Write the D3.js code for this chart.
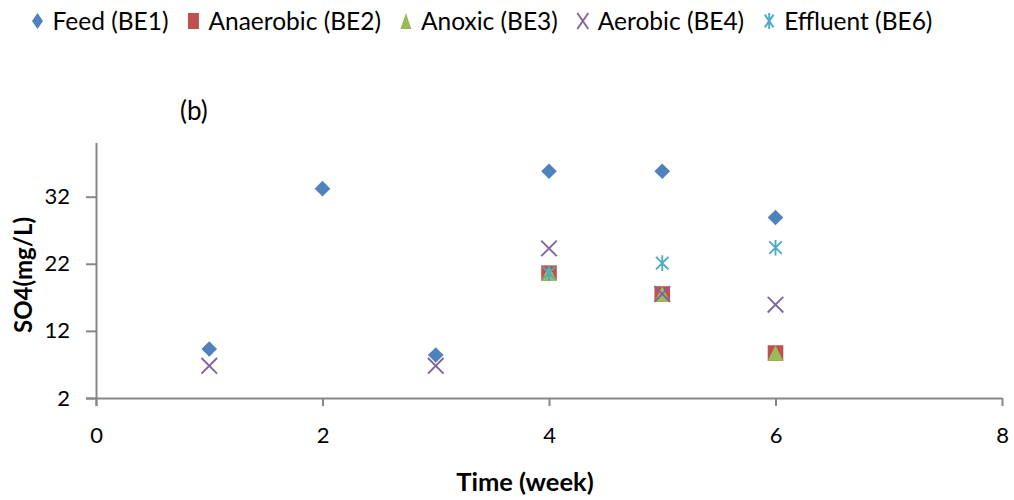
<!DOCTYPE html>
<html>
<head>
<meta charset="utf-8">
<script src="https://cdn.jsdelivr.net/npm/d3@7"></script>
<style>
  body { margin: 0; background: #fff; }
  svg { display: block; font-family: Lato, "Open Sans", sans-serif; }
</style>
</head>
<body>
<svg id="chart" width="1014" height="500"></svg>
<script>
// SO4 concentration by sampling point over time
const weeks = [1, 2, 3, 4, 5, 6];
const feed      = [9.3, 33.2, 8.4, 35.8, 35.8, 28.9];
const anaerobic = [null, null, null, 20.6, 17.5, 8.7];
const anoxic    = [null, null, null, 20.6, 17.5, 8.7];
const aerobic   = [6.8, null, 6.8, 24.3, 17.5, 15.9];
const effluent  = [null, null, null, 20.6, 22.1, 24.4];

const seriesNames = ["Feed (BE1)", "Anaerobic (BE2)", "Anoxic (BE3)", "Aerobic (BE4)", "Effluent (BE6)"];
const seriesValues = [feed, anaerobic, anoxic, aerobic, effluent];
const seriesColors = ["#4F81BD", "#C0504D", "#9BBB59", "#8064A2", "#4BACC6"];
const seriesShapes = ["diamond", "square", "triangle", "cross", "star"];

const xTicks = [0, 2, 4, 6, 8];
const yTicks = [2, 12, 22, 32];

const svg = d3.select("#chart");

const x = d3.scaleLinear().domain([0, 8]).range([96, 1002]);
const y = d3.scaleLinear().domain([2, 40]).range([398, 143]);

const axisColor = "#868686";

// Marker path builder (sx/sy: half width / half height)
function markerPath(shape, sx, sy = sx) {
  const p = d3.path();
  if (shape === "diamond") {
    p.moveTo(0, -sy); p.lineTo(sx, 0); p.lineTo(0, sy); p.lineTo(-sx, 0); p.closePath();
  } else if (shape === "square") {
    p.rect(-sx, -sy, sx * 2, sy * 2);
  } else if (shape === "triangle") {
    p.moveTo(0, -sy); p.lineTo(sx, sy); p.lineTo(-sx, sy); p.closePath();
  } else if (shape === "cross") {
    p.moveTo(-sx, -sy); p.lineTo(sx, sy); p.moveTo(sx, -sy); p.lineTo(-sx, sy);
  } else if (shape === "star") {
    p.moveTo(-sx * 0.8, -sy * 0.8); p.lineTo(sx * 0.8, sy * 0.8);
    p.moveTo(sx * 0.8, -sy * 0.8); p.lineTo(-sx * 0.8, sy * 0.8);
    p.moveTo(0, -sy); p.lineTo(0, sy);
  }
  return p.toString();
}
function styleMarker(sel, shape, color) {
  if (shape === "cross" || shape === "star") {
    sel.attr("fill", "none").attr("stroke", color).attr("stroke-width", 1.9);
  } else {
    sel.attr("fill", color).attr("stroke", "none");
  }
}

// Axes
const xAxis = d3.axisBottom(x).tickValues(xTicks).tickSize(8).tickFormat(d3.format("d"));
const gx = svg.append("g").attr("transform", "translate(0,398)").call(xAxis);
gx.select(".domain").attr("stroke", axisColor).attr("stroke-width", 2)
  .attr("d", `M${x(0) - 10},0.5H${x(8)}`);
gx.selectAll(".tick line").attr("stroke", axisColor).attr("stroke-width", 2);
gx.selectAll(".tick text").attr("fill", "#000").attr("font-size", 22)
  .attr("y", 45).attr("dy", null).attr("font-family", "Lato, sans-serif");

const yAxis = d3.axisLeft(y).tickValues(yTicks).tickSize(10);
const gy = svg.append("g").attr("transform", `translate(${x(0)},0)`).call(yAxis);
gy.select(".domain").attr("stroke", axisColor).attr("stroke-width", 2)
  .attr("d", `M0.5,${y(40)}V${y(2) + 8}`);
gy.selectAll(".tick line").attr("stroke", axisColor).attr("stroke-width", 2);
gy.selectAll(".tick text").attr("fill", "#000").attr("font-size", 22).attr("x", -26)
  .attr("font-family", "Lato, sans-serif");

// Axis titles
svg.append("text").attr("x", 525).attr("y", 491).attr("text-anchor", "middle")
  .attr("font-size", 25.5).attr("font-weight", "bold").text("Time (week)");
svg.append("text").attr("transform", "translate(32,275) rotate(-90)").attr("text-anchor", "middle")
  .attr("font-size", 24).attr("font-weight", "bold").text("SO4(mg/L)");

// Panel label
svg.append("text").attr("x", 180).attr("y", 120).attr("font-size", 26).text("(b)");

// Data markers
seriesValues.forEach((vals, i) => {
  const pts = weeks.map((w, j) => ({ w, v: vals[j] })).filter(d => d.v != null);
  const g = svg.append("g");
  const m = g.selectAll("path").data(pts).join("path")
    .attr("transform", d => `translate(${x(d.w)},${y(d.v)})`)
    .attr("d", markerPath(seriesShapes[i], 7.8));
  styleMarker(m, seriesShapes[i], seriesColors[i]);
});

// Legend
const legend = svg.append("g").attr("transform", "translate(0,21)");
let lx = 37.5;
seriesNames.forEach((name, i) => {
  const mk = legend.append("path").attr("transform", `translate(${lx},0)`)
    .attr("d", markerPath(seriesShapes[i], 5.5, 8));
  styleMarker(mk, seriesShapes[i], seriesColors[i]);
  const t = legend.append("text").attr("x", lx + 15).attr("y", 0).attr("dy", "0.35em")
    .attr("font-size", 24.5).text(name);
  lx += 15 + t.node().getComputedTextLength() + 25;
});
</script>
</body>
</html>
